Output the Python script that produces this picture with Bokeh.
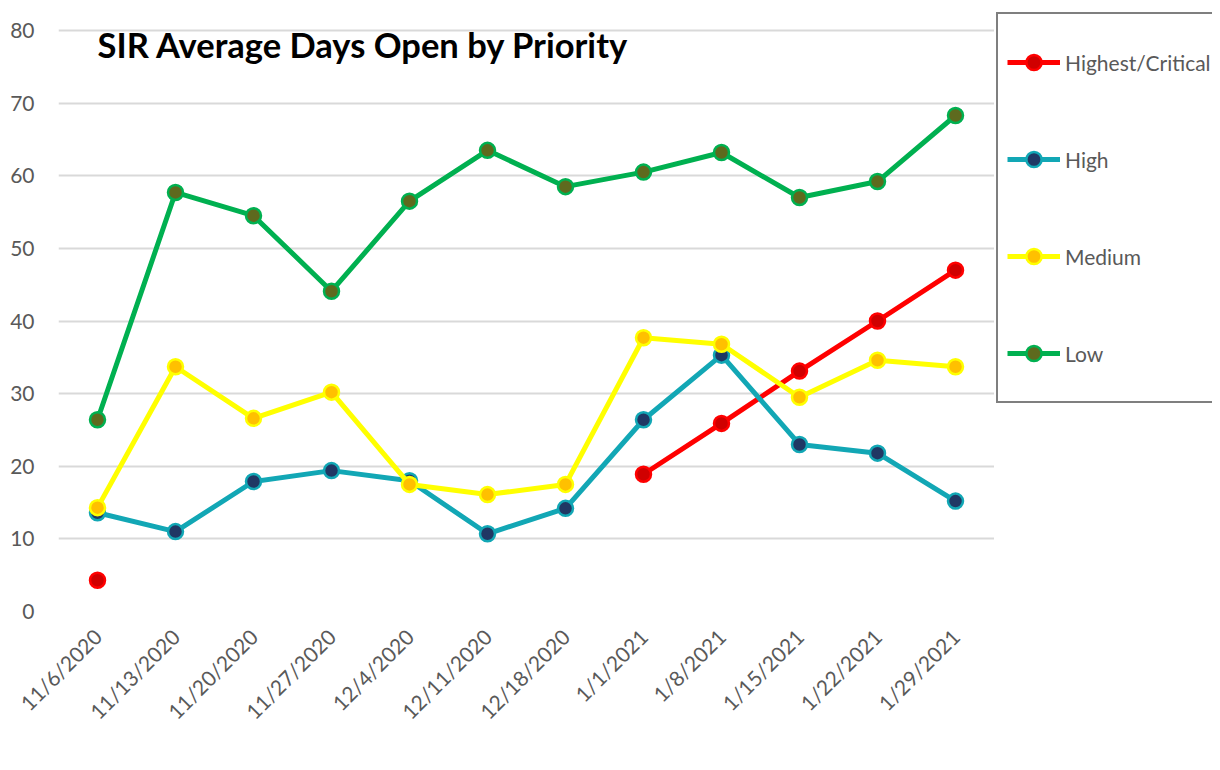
import math
from bokeh.plotting import figure
from bokeh.layouts import row
from bokeh.models import Range1d, FactorRange, Legend, LegendItem, Label, SingleIntervalTicker, ColumnDataSource
from bokeh.embed import file_html
from bokeh.resources import INLINE

dates = ["11/6/2020", "11/13/2020", "11/20/2020", "11/27/2020", "12/4/2020", "12/11/2020",
         "12/18/2020", "1/1/2021", "1/8/2021", "1/15/2021", "1/22/2021", "1/29/2021"]
nan = float("nan")
critical = [4.3, nan, nan, nan, nan, nan, nan, 18.9, 25.9, 33.1, 40.0, 47.0]
high = [13.6, 11.0, 17.9, 19.4, 18.0, 10.7, 14.2, 26.4, 35.3, 23.0, 21.8, 15.2]
medium = [14.3, 33.7, 26.6, 30.2, 17.5, 16.1, 17.5, 37.7, 36.8, 29.5, 34.6, 33.7]
low = [26.4, 57.7, 54.5, 44.1, 56.5, 63.5, 58.5, 60.5, 63.2, 57.0, 59.2, 68.3]

series_names = ["Highest/Critical", "High", "Medium", "Low"]
line_colors = ["#ff0000", "#12a7b5", "#ffff00", "#00b050"]
marker_colors = ["#d00000", "#203864", "#ffc000", "#5e6a1e"]
title_text = "SIR Average Days Open by Priority"

FONT = "Lato"
GRAY = "#595959"
H = 762
TOP = 10          # frame top (px); the 80 gridline sits 20 px lower
PX_PER_UNIT = 581 / 80.0

p = figure(width=994, height=H, x_range=FactorRange(*dates, range_padding=0),
           y_range=Range1d(0, 80 + (30 - TOP) / PX_PER_UNIT), output_backend="svg",
           toolbar_location=None,
           min_border_left=58, min_border_right=0, min_border_top=TOP, min_border_bottom=151)
p.outline_line_color = None
p.background_fill_color = "white"
p.border_fill_color = "white"

p.yaxis.ticker = SingleIntervalTicker(interval=10)
for ax in (p.xaxis, p.yaxis):
    ax.axis_line_color = None
    ax.major_tick_line_color = None
    ax.minor_tick_line_color = None
    ax.major_label_text_font = FONT
    ax.major_label_text_font_size = "21px"
    ax.major_label_text_color = GRAY
p.yaxis.major_label_standoff = 18
p.xaxis.major_label_orientation = math.pi / 4
p.xaxis.major_label_standoff = 15
p.xgrid.grid_line_color = None
p.ygrid.grid_line_color = "#d9d9d9"
p.ygrid.grid_line_width = 2

for vals, lc, mc in zip([critical, high, medium, low], line_colors, marker_colors):
    src = ColumnDataSource(dict(x=dates, y=vals))
    p.line("x", "y", source=src, line_color=lc, line_width=5)
    p.scatter("x", "y", source=src, size=15, fill_color=mc, line_color=lc, line_width=2.5)

title = Label(x=0.5, y=78.07, text=title_text, text_font=FONT, text_font_size="34.5px",
              text_font_style="bold", text_color="black", text_align="left",
              text_baseline="alphabetic")
p.add_layout(title)

# legend panel (proxy glyphs sit outside its visible range)
q = figure(width=218, height=H, x_range=Range1d(0, 1), y_range=Range1d(0, 1),
           output_backend="svg", toolbar_location=None,
           min_border_left=0, min_border_right=0, min_border_top=TOP, min_border_bottom=151)
q.axis.visible = False
q.grid.visible = False
q.outline_line_color = None
q.background_fill_color = "white"
q.border_fill_color = "white"

items = []
for name, lc, mc in zip(series_names, line_colors, marker_colors):
    src = ColumnDataSource(dict(x=[-10, -11], y=[-10, -11]))
    r1 = q.line("x", "y", source=src, line_color=lc, line_width=5)
    r2 = q.scatter("x", "y", source=src, size=15, fill_color=mc, line_color=lc, line_width=2.5)
    items.append(LegendItem(label=name, renderers=[r1, r2]))

legend = Legend(items=items, location=(2, 611 - 403), orientation="vertical",
                label_text_font=FONT, label_text_font_size="21px", label_text_color=GRAY,
                glyph_width=53, glyph_height=38, label_height=78, label_standoff=5,
                spacing=19, padding=9, margin=0,
                border_line_color="black", border_line_width=2.5,
                background_fill_color="white", background_fill_alpha=1)
q.add_layout(legend, "center")

layout = row(p, q, spacing=0)
open("out.html", "w").write(file_html(layout, INLINE))
